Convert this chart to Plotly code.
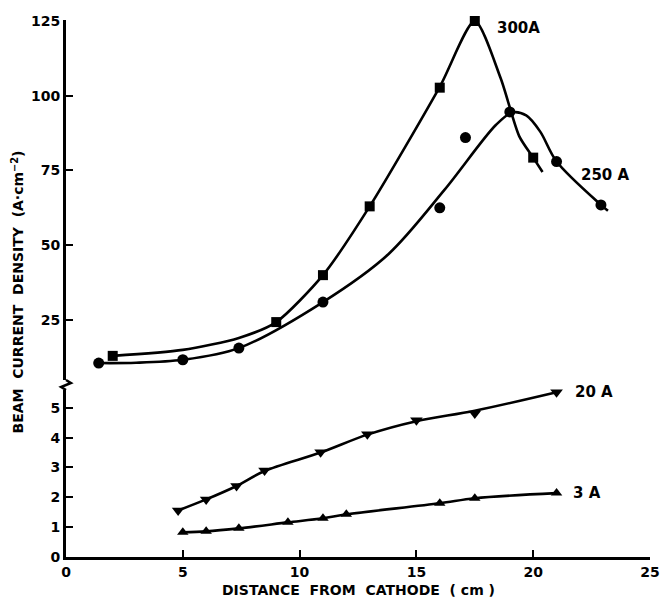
import plotly.graph_objects as go

# ---- measured data -------------------------------------------------------
# 300 A discharge (upper panel, squares)
x_300_pts = [2, 9, 11, 13, 16, 17.5, 20]
y_300_pts = [13, 24.3, 40, 63, 102.7, 125, 79.3]
x_300_fit = [2, 5, 7.4, 9, 11, 13, 16, 17.5, 18.6, 19.4, 20, 20.4]
y_300_fit = [13, 15, 19, 24.3, 40, 63, 103, 125, 106, 86.5, 79.3, 74.5]

# 250 A discharge (upper panel, circles)
x_250_pts = [1.4, 5, 7.4, 11, 16, 17.1, 19, 21, 22.9]
y_250_pts = [10.6, 11.7, 15.6, 31, 62.5, 86, 94.6, 78, 63.5]
x_250_fit = [1.4, 3, 5, 7.4, 11, 13.8, 16.2, 18.4, 19.1, 19.7, 20.3, 21,
             22.9, 23.2]
y_250_fit = [10.6, 10.7, 11.7, 15.6, 31, 47, 68.5, 90.2, 94.4, 93.4, 88, 78,
             63.5, 61.5]

# 20 A discharge (lower panel, down triangles)
x_20_pts = [4.8, 6.0, 7.3, 8.5, 10.9, 12.9, 15, 17.5, 21]
y_20_pts = [1.56, 1.93, 2.38, 2.9, 3.51, 4.11, 4.58, 4.81, 5.52]
x_20_fit = [4.8, 6.0, 7.3, 8.5, 10.9, 12.9, 15, 17.5, 21]
y_20_fit = [1.56, 1.93, 2.38, 2.88, 3.5, 4.1, 4.55, 4.9, 5.52]

# 3 A discharge (lower panel, up triangles)
x_3_pts = [5, 6, 7.4, 9.5, 11, 12, 16, 17.5, 21]
y_3_pts = [0.83, 0.86, 0.96, 1.16, 1.30, 1.43, 1.80, 1.97, 2.14]

x_ticks = [0, 5, 10, 15, 20, 25]
y_low_ticks = [0, 1, 2, 3, 4, 5]
y_high_ticks = [25, 50, 75, 100, 125]

series_labels = ["300A", "250 A", "20 A", "3 A"]

# ---- figure --------------------------------------------------------------
FONT = "DejaVu Sans"
INK = "black"

fig = go.Figure()


def add_series(xf, yf, xp, yp, symbol, axis, size=10, smooth=0.9):
    fig.add_trace(go.Scatter(
        x=xf, y=yf, yaxis=axis, mode="lines",
        line=dict(color=INK, width=2.6, shape="spline", smoothing=smooth),
        cliponaxis=False, hoverinfo="skip", showlegend=False))
    fig.add_trace(go.Scatter(
        x=xp, y=yp, yaxis=axis, mode="markers",
        marker=dict(symbol=symbol, size=size, color=INK),
        cliponaxis=False, showlegend=False))


add_series(x_300_fit, y_300_fit, x_300_pts, y_300_pts, "square", "y2", 10, 0.7)
add_series(x_250_fit, y_250_fit, x_250_pts, y_250_pts, "circle", "y2", 11, 0.9)
add_series(x_20_fit, y_20_fit, x_20_pts, y_20_pts, "triangle-down", "y", 11)
add_series(x_3_pts, y_3_pts, x_3_pts, y_3_pts, "triangle-up", "y", 10)

tickfont = dict(family=FONT, size=14, color=INK, weight="bold")
axis_common = dict(
    showline=True, linecolor=INK, showgrid=False, zeroline=False,
    ticks="inside", ticklen=7, tickwidth=2, tickcolor=INK,
    tickfont=tickfont,
)

# broken vertical axis: lower panel 0-5.6, upper panel 5-125
low_top = 0.311
high_bottom = 0.3296

fig.update_layout(
    width=671, height=604,
    margin=dict(l=66, r=11, t=20, b=47),
    paper_bgcolor="white", plot_bgcolor="white",
    xaxis=dict(range=[0, 25], tickvals=x_ticks, anchor="y",
               linewidth=2.5, **axis_common),
    yaxis=dict(domain=[0, low_top], range=[0, 5.595], tickvals=y_low_ticks,
               anchor="x", linewidth=3, **axis_common),
    yaxis2=dict(domain=[high_bottom, 1], range=[4.93, 125.33],
                tickvals=y_high_ticks, anchor="x", linewidth=3,
                **axis_common),
)

# zig-zag marking the axis break
fig.add_shape(
    type="path", xref="paper", yref="paper",
    path=(f"M 0,{high_bottom} L 0.0084,0.3240 "
          f"L -0.0084,0.3166 L 0,{low_top}"),
    line=dict(color=INK, width=2.5),
)

labfont = dict(family=FONT, size=15, color=INK, weight="bold")
label_pos = [(18.35, 122.7, "y2"), (21.95, 73.5, "y2"),
             (21.7, 5.52, "y"), (21.6, 2.13, "y")]
for text, (lx, ly, ax) in zip(series_labels, label_pos):
    fig.add_annotation(x=lx, y=ly, xref="x", yref=ax, text=text,
                       showarrow=False, xanchor="left", yanchor="middle",
                       font=labfont)

titlefont = dict(family=FONT, size=14, color=INK, weight="bold")
fig.add_annotation(
    x=0.5, y=-0.062, xref="paper", yref="paper",
    text="DISTANCE  FROM  CATHODE  ( cm )", showarrow=False,
    xanchor="center", yanchor="middle", font=titlefont)
fig.add_annotation(
    x=-0.083, y=0.4935, xref="paper", yref="paper",
    text="BEAM  CURRENT  DENSITY  (A·cm<sup>−2</sup>)", showarrow=False,
    textangle=-90, xanchor="center", yanchor="middle", font=titlefont)

fig.write_html("out.html")
